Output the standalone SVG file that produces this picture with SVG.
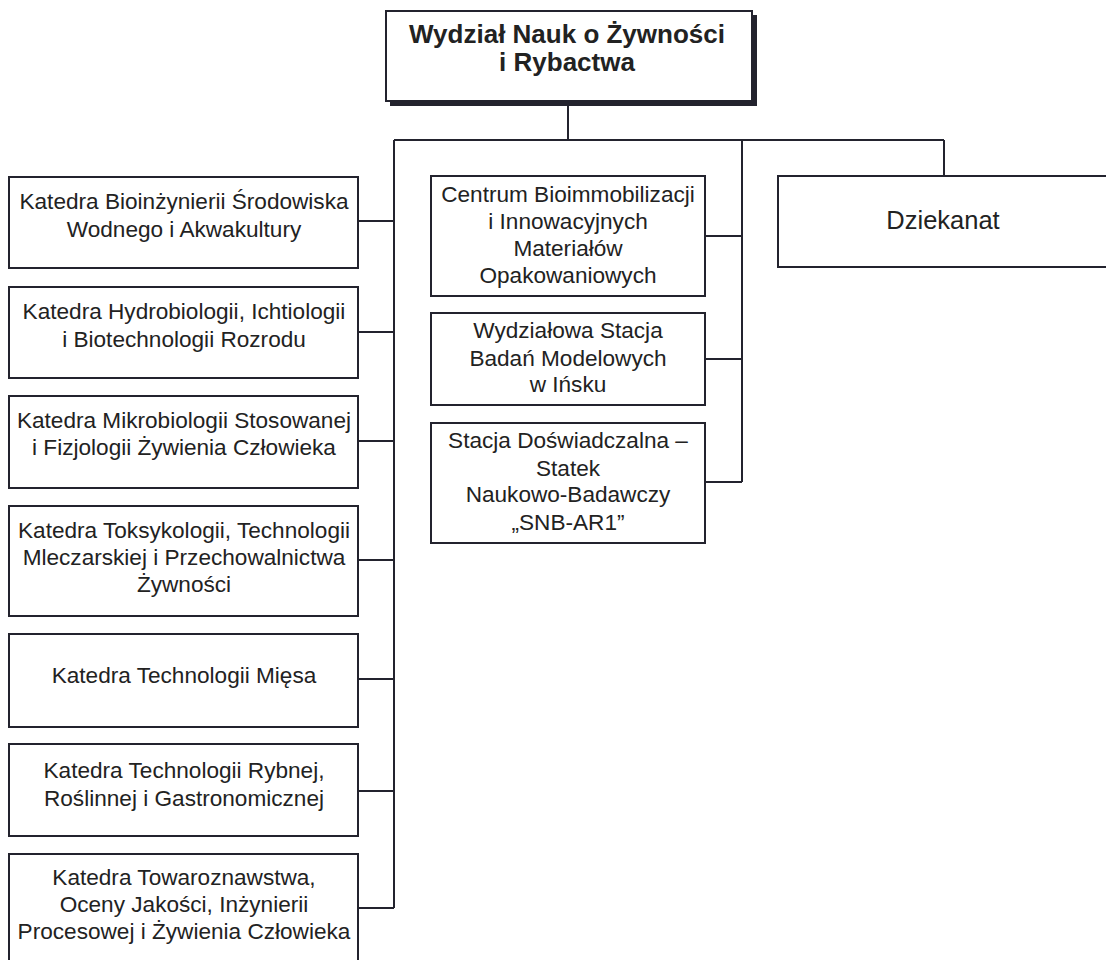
<svg xmlns="http://www.w3.org/2000/svg" width="1106" height="960" viewBox="0 0 1106 960">
<style>
.box{fill:#fff;stroke:#23232e;stroke-width:2}
.shadow{fill:#23232e}
.conn{fill:none;stroke:#23232e;stroke-width:2}
.t{font-family:"Liberation Sans",Arial,sans-serif;font-size:22.6px;fill:#222;text-anchor:middle}
.big{font-size:25.5px}
.title{font-family:"Liberation Sans",Arial,sans-serif;font-size:26px;font-weight:bold;fill:#222;text-anchor:middle}
</style>
<rect width="1106" height="960" fill="#fff"/>
<g id="connectors">
<path class="conn" d="M568 104V140M394 140H944M394 140V908M742 140V482M944 140V176"/>
<path class="conn" d="M358 221H394M358 332H394M358 441H394M358 560H394M358 679H394M358 791H394M358 908H394"/>
<path class="conn" d="M705 236H742M705 359H742M705 482H742"/>
</g>
<g id="node-root">
<rect class="shadow" x="390" y="15" width="367" height="91"/>
<rect class="box" x="386" y="11" width="366" height="90"/>
<text class="title" x="567" y="43">Wydział Nauk o Żywności</text>
<text class="title" x="567" y="71">i Rybactwa</text>
</g>
<g id="node-k1">
<rect class="box" x="9" y="177" width="349" height="91"/>
<text class="t" x="184" y="209">Katedra Bioinżynierii Środowiska</text>
<text class="t" x="184" y="237">Wodnego i Akwakultury</text>
</g>
<g id="node-k2">
<rect class="box" x="9" y="287" width="349" height="91"/>
<text class="t" x="184" y="319">Katedra Hydrobiologii, Ichtiologii</text>
<text class="t" x="184" y="347">i Biotechnologii Rozrodu</text>
</g>
<g id="node-k3">
<rect class="box" x="9" y="396" width="349" height="92"/>
<text class="t" x="184" y="428">Katedra Mikrobiologii Stosowanej</text>
<text class="t" x="184" y="455">i Fizjologii Żywienia Człowieka</text>
</g>
<g id="node-k4">
<rect class="box" x="9" y="506" width="349" height="110"/>
<text class="t" x="184" y="538">Katedra Toksykologii, Technologii</text>
<text class="t" x="184" y="565">Mleczarskiej i Przechowalnictwa</text>
<text class="t" x="184" y="592">Żywności</text>
</g>
<g id="node-k5">
<rect class="box" x="9" y="634" width="349" height="93"/>
<text class="t" x="184" y="683">Katedra Technologii Mięsa</text>
</g>
<g id="node-k6">
<rect class="box" x="9" y="744" width="349" height="92"/>
<text class="t" x="184" y="778">Katedra Technologii Rybnej,</text>
<text class="t" x="184" y="806">Roślinnej i Gastronomicznej</text>
</g>
<g id="node-k7">
<rect class="box" x="9" y="854" width="349" height="112"/>
<text class="t" x="184" y="885">Katedra Towaroznawstwa,</text>
<text class="t" x="184" y="912">Oceny Jakości, Inżynierii</text>
<text class="t" x="184" y="939">Procesowej i Żywienia Człowieka</text>
</g>
<g id="node-c1">
<rect class="box" x="431" y="176" width="274" height="120"/>
<text class="t" x="568" y="202">Centrum Bioimmobilizacji</text>
<text class="t" x="568" y="229">i Innowacyjnych</text>
<text class="t" x="568" y="256">Materiałów</text>
<text class="t" x="568" y="283">Opakowaniowych</text>
</g>
<g id="node-c2">
<rect class="box" x="431" y="313" width="274" height="92"/>
<text class="t" x="568" y="338">Wydziałowa Stacja</text>
<text class="t" x="568" y="366">Badań Modelowych</text>
<text class="t" x="568" y="392">w Ińsku</text>
</g>
<g id="node-c3">
<rect class="box" x="431" y="423" width="274" height="120"/>
<text class="t" x="568" y="448">Stacja Doświadczalna –</text>
<text class="t" x="568" y="476">Statek</text>
<text class="t" x="568" y="502">Naukowo-Badawczy</text>
<text class="t" x="568" y="530">„SNB-AR1”</text>
</g>
<g id="node-dziekanat">
<rect class="box" x="778" y="176" width="340" height="91"/>
<text class="t big" x="943" y="229">Dziekanat</text>
</g>
</svg>
